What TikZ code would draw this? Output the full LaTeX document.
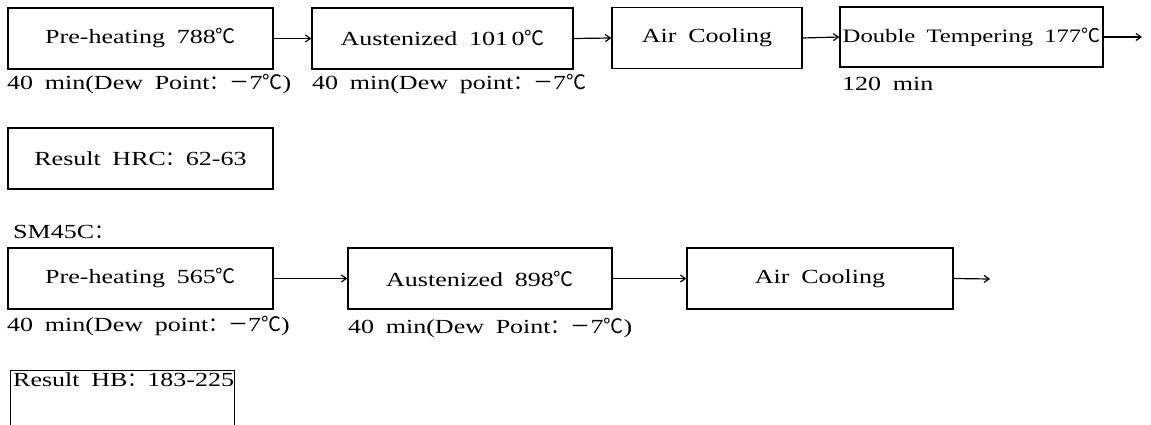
\documentclass[tikz,border=0pt]{standalone}
\usepackage{fontspec}
\setmainfont{Liberation Serif}[FakeStretch=1.3, WordSpace=1.8]
\newfontfamily\cjk{Noto Sans CJK SC}
\newcommand{\dC}{{\cjk ℃}}
\newcommand{\fc}{{\cjk ：}}
\newcommand{\fm}{{\cjk －}}
\usetikzlibrary{arrows.meta}
\tikzset{
  txt/.style={font=\fontsize{20}{23}\selectfont, inner sep=0pt},
  stepbox/.style={txt, draw, line width=1.3pt, minimum height=61pt},
  lbl/.style={txt, anchor=west},
  flow/.style={line width=1.2pt, -{Straight Barb[length=5pt,width=7pt]}}
}
\begin{document}
\begin{tikzpicture}[x=1pt,y=-1pt]
\useasboundingbox (0,0) rectangle (1151,425);
\clip (0,0) rectangle (1151,425);
% Row 1
\node[stepbox, minimum width=265pt] (a1) at (140.5,38.5) {Pre-heating 788\dC};
\node[stepbox, minimum width=261pt] (a2) at (442.5,38.5) {Austenized 101\,0\dC};
\node[stepbox, minimum width=190pt] (a3) at (707,38) {Air Cooling};
\node[stepbox, minimum width=263pt, minimum height=60pt, font=\fontsize{19}{22}\selectfont] (a4) at (971.5,37) {Double Tempering 177\dC};
\coordinate (a5) at (1142,37);
\draw[flow] (a1.east) -- (a2.west);
\draw[flow] (a2.east) -- (a3.west);
\draw[flow] (a3.east) -- (a4.west);
\draw[flow] (a4.east) -- (a5);
\node[lbl] (la1) at (7,84) {40 min(Dew Point\fc\fm7\dC)};
\node[lbl] (la2) at (312,84) {40 min(Dew point\fc\fm7\dC};
\node[lbl] (la4) at (842,84) {120 min};
% Result HRC
\node[stepbox, minimum width=265pt] (r1) at (140.5,158.5) {Result HRC\fc 62-63};
% SM45C
\node[lbl] (sm) at (13,232) {SM45C\fc};
% Row 2
\node[stepbox, minimum width=265pt] (b1) at (140.5,278.5) {Pre-heating 565\dC};
\node[stepbox, minimum width=264pt] (b2) at (480,278.5) {Austenized 898\dC};
\node[stepbox, minimum width=266pt] (b3) at (820,278.5) {Air Cooling};
\coordinate (b4) at (990,279);
\draw[flow] (b1.east) -- (b2.west);
\draw[flow] (b2.east) -- (b3.west);
\draw[flow] (b3.east) -- (b4);
\node[lbl] (lb1) at (7,326) {40 min(Dew point\fc\fm7\dC)};
\node[lbl] (lb2) at (348,328) {40 min(Dew Point\fc\fm7\dC)};
% Result HB (cut off at bottom)
\node[txt, draw, line width=1.3pt, minimum width=224pt, minimum height=90pt, anchor=north west] (r2) at (10,370) {};
\node[txt, anchor=west] (r2t) at ([xshift=3pt,yshift=-10pt]r2.north west) {Result HB\fc 183-225};
\end{tikzpicture}
\end{document}
